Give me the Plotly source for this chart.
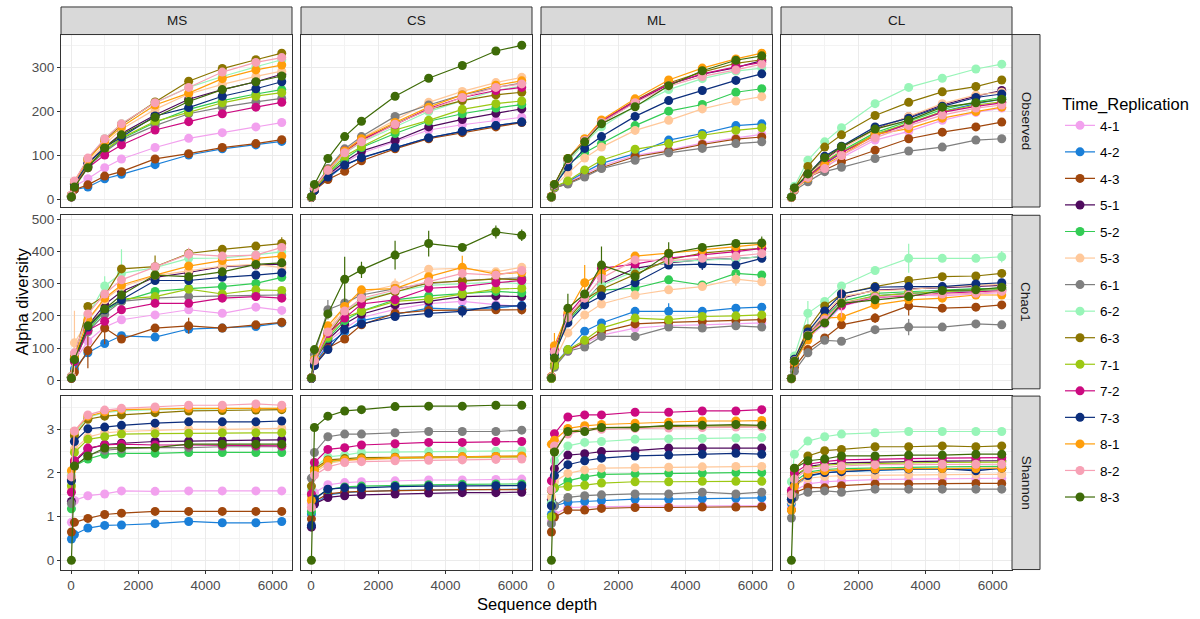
import plotly.graph_objects as go

# rarefaction depths and facet labels
depths = [10, 100, 500, 1000, 1500, 2500, 3500, 4500, 5500, 6270]
sites = ["MS", "CS", "ML", "CL"]
measures = ["Observed", "Chao1", "Shannon"]
groups = ["4-1", "4-2", "4-3", "5-1", "5-2", "5-3", "6-1", "6-2",
          "6-3", "7-1", "7-2", "7-3", "8-1", "8-2", "8-3"]
colors = ["#F2A1EE", "#1A7FD8", "#A0470D", "#4F0A5E", "#33CC55", "#FFC89A",
          "#7F7F7F", "#98F5B8", "#8B7500", "#9CC813", "#CC0A80", "#0C2E7C",
          "#FF9E0B", "#F7A1B5", "#3E6B08"]

# ---- Observed (rows follow the order of groups) ----
obs_MS = [
    [6, 30, 47, 72, 92, 118, 139, 152, 165, 175],
    [5, 22, 28, 47, 57, 79, 101, 115, 124, 132],
    [5, 22, 33, 53, 63, 92, 104, 118, 127, 136],
    [8, 35, 82, 118, 150, 192, 228, 250, 268, 285],
    [7, 33, 75, 110, 138, 175, 205, 225, 240, 250],
    [8, 38, 85, 125, 160, 205, 240, 262, 280, 292],
    [7, 33, 75, 108, 135, 168, 195, 210, 222, 230],
    [9, 40, 92, 138, 172, 220, 255, 280, 302, 318],
    [9, 40, 92, 135, 170, 222, 269, 298, 318, 333],
    [7, 34, 78, 112, 140, 178, 198, 220, 235, 243],
    [7, 33, 72, 101, 124, 158, 177, 195, 210, 221],
    [8, 36, 82, 118, 142, 190, 209, 235, 252, 268],
    [9, 40, 90, 132, 165, 215, 242, 275, 295, 306],
    [10, 42, 94, 138, 172, 220, 255, 290, 312, 323],
    [6, 28, 72, 117, 147, 187, 223, 250, 268, 281],
]
obs_CS = [
    [4, 22, 52, 82, 105, 132, 158, 170, 180, 187],
    [4, 20, 48, 78, 94, 118, 140, 155, 168, 176],
    [4, 20, 45, 64, 88, 115, 138, 152, 165, 175],
    [4, 22, 55, 86, 110, 134, 165, 182, 196, 206],
    [4, 23, 58, 92, 118, 150, 178, 195, 208, 216],
    [5, 26, 68, 112, 140, 180, 221, 246, 266, 278],
    [5, 27, 70, 115, 143, 189, 215, 238, 255, 265],
    [5, 25, 64, 105, 130, 165, 200, 225, 248, 258],
    [5, 25, 65, 108, 135, 172, 205, 225, 238, 244],
    [4, 24, 60, 98, 120, 158, 180, 205, 218, 224],
    [5, 25, 66, 110, 136, 170, 207, 232, 248, 255],
    [4, 20, 51, 78, 95, 118, 140, 155, 168, 176],
    [5, 26, 67, 110, 138, 175, 210, 238, 260, 270],
    [5, 26, 66, 106, 131, 171, 204, 232, 255, 263],
    [6, 34, 93, 143, 178, 235, 276, 305, 338, 351],
]
obs_ML = [
    [5, 28, 38, 58, 76, 100, 112, 128, 140, 148],
    [5, 28, 40, 62, 82, 104, 135, 150, 168, 172],
    [5, 26, 36, 54, 72, 97, 110, 125, 137, 142],
    [6, 33, 90, 134, 175, 222, 262, 285, 300, 316],
    [6, 30, 80, 106, 127, 168, 201, 216, 244, 252],
    [5, 30, 59, 94, 119, 157, 180, 206, 224, 234],
    [5, 26, 35, 51, 70, 89, 106, 116, 127, 131],
    [6, 32, 85, 128, 165, 212, 250, 275, 292, 299],
    [6, 33, 91, 136, 178, 225, 265, 290, 310, 318],
    [5, 28, 42, 67, 89, 114, 127, 146, 157, 163],
    [6, 33, 92, 136, 178, 224, 262, 286, 302, 312],
    [6, 31, 74, 116, 143, 189, 225, 248, 271, 286],
    [7, 34, 93, 138, 181, 229, 272, 299, 320, 333],
    [6, 32, 90, 134, 175, 220, 258, 280, 295, 308],
    [6, 34, 93, 131, 172, 211, 259, 293, 317, 327],
]
obs_CL = [
    [4, 24, 46, 74, 95, 135, 155, 180, 198, 208],
    [4, 24, 50, 80, 106, 148, 172, 200, 218, 228],
    [4, 22, 51, 67, 85, 112, 138, 153, 165, 176],
    [5, 25, 56, 90, 118, 160, 188, 215, 235, 248],
    [5, 24, 53, 85, 110, 152, 178, 205, 222, 232],
    [5, 25, 55, 88, 115, 158, 189, 218, 238, 244],
    [4, 20, 40, 63, 73, 93, 110, 119, 135, 138],
    [6, 30, 89, 131, 163, 218, 255, 276, 297, 308],
    [5, 25, 75, 119, 147, 191, 221, 245, 257, 272],
    [4, 23, 52, 84, 108, 148, 174, 200, 215, 222],
    [4, 23, 52, 82, 106, 145, 172, 198, 212, 220],
    [5, 25, 57, 98, 121, 165, 185, 212, 232, 240],
    [4, 22, 48, 78, 100, 148, 161, 185, 200, 210],
    [4, 23, 50, 70, 100, 140, 168, 192, 208, 215],
    [5, 26, 58, 95, 120, 160, 180, 210, 220, 228],
]

# ---- Chao1 ----
chao_MS = [
    [8, 60, 121, 165, 188, 203, 219, 208, 227, 217],
    [5, 35, 85, 114, 138, 134, 159, 162, 167, 178],
    [5, 25, 92, 162, 128, 162, 169, 162, 172, 180],
    [10, 68, 170, 235, 276, 320, 335, 353, 358, 361],
    [9, 62, 155, 215, 245, 276, 285, 291, 301, 320],
    [12, 116, 185, 250, 290, 325, 340, 355, 360, 350],
    [8, 60, 150, 205, 245, 255, 260, 262, 264, 265],
    [12, 82, 200, 293, 332, 350, 379, 380, 390, 399],
    [10, 72, 229, 262, 346, 353, 394, 407, 417, 425],
    [9, 65, 160, 220, 252, 260, 283, 268, 281, 279],
    [9, 58, 155, 183, 219, 239, 239, 255, 260, 255],
    [9, 65, 165, 219, 250, 310, 310, 320, 327, 334],
    [10, 70, 188, 255, 296, 327, 355, 372, 379, 386],
    [11, 85, 206, 268, 312, 353, 392, 386, 389, 413],
    [7, 64, 169, 221, 265, 327, 322, 337, 360, 365],
]
chao_CS = [
    [6, 55, 120, 160, 195, 220, 238, 245, 235, 229],
    [5, 50, 110, 150, 185, 205, 224, 220, 225, 232],
    [5, 48, 100, 128, 172, 208, 217, 217, 219, 219],
    [6, 58, 125, 175, 205, 234, 245, 260, 262, 260],
    [7, 60, 130, 185, 215, 250, 262, 270, 276, 272],
    [8, 70, 155, 230, 272, 296, 345, 348, 337, 351],
    [8, 80, 219, 240, 265, 285, 300, 310, 315, 318],
    [7, 65, 150, 215, 250, 275, 295, 300, 305, 300],
    [7, 62, 140, 210, 245, 275, 303, 308, 315, 312],
    [6, 60, 135, 195, 214, 245, 252, 268, 283, 286],
    [7, 62, 145, 193, 237, 250, 286, 291, 303, 310],
    [5, 45, 95, 157, 175, 198, 208, 214, 231, 231],
    [7, 64, 169, 229, 281, 285, 322, 351, 330, 335],
    [7, 60, 150, 215, 255, 280, 306, 332, 327, 341],
    [7, 95, 206, 314, 343, 389, 425, 413, 461, 451],
]
chao_ML = [
    [6, 45, 90, 115, 140, 162, 170, 172, 175, 178],
    [6, 50, 95, 152, 178, 214, 214, 214, 224, 227],
    [5, 48, 92, 118, 150, 175, 180, 183, 185, 188],
    [10, 90, 200, 245, 300, 348, 365, 375, 378, 384],
    [9, 80, 185, 240, 280, 286, 312, 296, 332, 327],
    [8, 60, 147, 203, 237, 265, 281, 291, 314, 306],
    [5, 40, 90, 103, 136, 136, 165, 162, 169, 165],
    [10, 85, 195, 250, 295, 340, 368, 372, 378, 384],
    [9, 85, 190, 250, 283, 330, 375, 395, 405, 410],
    [6, 45, 95, 124, 162, 193, 188, 198, 200, 203],
    [10, 95, 203, 265, 348, 361, 380, 389, 400, 410],
    [9, 82, 178, 234, 262, 303, 358, 361, 358, 379],
    [11, 107, 210, 303, 332, 386, 395, 405, 415, 423],
    [10, 88, 195, 255, 317, 374, 372, 379, 386, 394],
    [7, 69, 224, 268, 358, 322, 394, 413, 425, 427],
]
chao_CL = [
    [5, 55, 130, 175, 230, 255, 265, 262, 268, 272],
    [5, 55, 135, 180, 235, 262, 270, 275, 280, 282],
    [4, 40, 95, 131, 172, 193, 231, 224, 227, 234],
    [6, 60, 145, 200, 255, 280, 285, 288, 292, 295],
    [6, 58, 140, 195, 245, 270, 275, 280, 285, 285],
    [6, 60, 145, 205, 260, 278, 282, 290, 295, 298],
    [4, 28, 85, 124, 121, 157, 165, 165, 175, 172],
    [7, 75, 208, 245, 293, 341, 379, 379, 379, 384],
    [6, 65, 160, 231, 268, 291, 310, 322, 324, 332],
    [5, 58, 140, 190, 240, 262, 270, 275, 280, 282],
    [5, 55, 140, 192, 232, 258, 262, 270, 275, 278],
    [6, 65, 150, 215, 268, 289, 291, 291, 299, 303],
    [5, 55, 125, 193, 196, 234, 250, 255, 265, 265],
    [6, 60, 140, 188, 240, 258, 265, 268, 270, 276],
    [5, 59, 138, 178, 239, 250, 260, 279, 281, 289],
]

# visible Chao1 error bars: (group, depth index, half-width)
chao_err_MS = [("5-3", 1, 100), ("6-2", 4, 75), ("4-3", 2, 55), ("4-3", 3, 50),
               ("4-1", 1, 30), ("6-3", 5, 35), ("6-3", 9, 20), ("4-3", 6, 25),
               ("8-2", 6, 20), ("6-2", 3, 30)]
chao_err_CS = [("8-3", 3, 70), ("8-3", 5, 45), ("8-3", 6, 40), ("8-3", 4, 25),
               ("8-3", 8, 20), ("8-3", 9, 18), ("8-1", 7, 36), ("6-1", 2, 30),
               ("5-3", 5, 20), ("7-3", 7, 18), ("4-3", 9, 15)]
chao_err_ML = [("8-3", 4, 58), ("8-1", 3, 55), ("8-3", 2, 45), ("8-3", 6, 35),
               ("8-1", 1, 40), ("4-2", 6, 25), ("8-3", 9, 20), ("5-3", 8, 20),
               ("7-3", 7, 18)]
chao_err_CL = [("6-2", 6, 45), ("8-2", 4, 45), ("6-2", 2, 38), ("4-3", 6, 30),
               ("6-1", 6, 25), ("6-1", 1, 25), ("6-2", 9, 18), ("4-3", 5, 15)]

# ---- Shannon ----
shan_MS = [
    [0.87, 1.37, 1.48, 1.52, 1.59, 1.58, 1.59, 1.59, 1.59, 1.59],
    [0.49, 0.59, 0.74, 0.80, 0.81, 0.84, 0.89, 0.86, 0.86, 0.89],
    [0.65, 0.87, 0.96, 1.05, 1.08, 1.12, 1.12, 1.12, 1.12, 1.12],
    [1.35, 2.25, 2.55, 2.65, 2.68, 2.72, 2.73, 2.74, 2.75, 2.76],
    [1.18, 2.16, 2.32, 2.43, 2.45, 2.45, 2.47, 2.47, 2.47, 2.47],
    [1.65, 2.55, 2.82, 2.92, 2.95, 2.98, 3.00, 3.00, 3.01, 3.02],
    [1.30, 2.15, 2.40, 2.52, 2.55, 2.58, 2.58, 2.60, 2.60, 2.60],
    [1.95, 2.90, 3.28, 3.38, 3.42, 3.45, 3.46, 3.47, 3.47, 3.48],
    [1.85, 2.85, 3.23, 3.30, 3.33, 3.38, 3.42, 3.43, 3.44, 3.45],
    [1.71, 2.47, 2.77, 2.83, 2.89, 2.90, 2.91, 2.92, 2.92, 2.92],
    [1.56, 2.28, 2.57, 2.64, 2.66, 2.64, 2.64, 2.63, 2.63, 2.62],
    [1.82, 2.72, 3.01, 3.05, 3.09, 3.14, 3.17, 3.17, 3.17, 3.19],
    [2.05, 2.95, 3.30, 3.40, 3.45, 3.47, 3.48, 3.48, 3.48, 3.48],
    [1.91, 2.96, 3.33, 3.44, 3.48, 3.51, 3.55, 3.55, 3.58, 3.55],
    [0.00, 2.16, 2.39, 2.57, 2.58, 2.58, 2.66, 2.66, 2.66, 2.66],
]
shan_CS = [
    [1.30, 1.55, 1.73, 1.78, 1.80, 1.82, 1.84, 1.84, 1.85, 1.86],
    [1.06, 1.29, 1.50, 1.55, 1.57, 1.60, 1.61, 1.62, 1.62, 1.63],
    [0.95, 1.35, 1.52, 1.56, 1.58, 1.60, 1.61, 1.62, 1.62, 1.62],
    [0.76, 1.29, 1.44, 1.48, 1.50, 1.52, 1.54, 1.55, 1.55, 1.56],
    [1.12, 1.42, 1.62, 1.68, 1.70, 1.72, 1.73, 1.74, 1.75, 1.75],
    [1.45, 2.00, 2.22, 2.28, 2.30, 2.33, 2.34, 2.35, 2.35, 2.36],
    [1.88, 2.47, 2.83, 2.89, 2.89, 2.92, 2.95, 2.95, 2.95, 2.98],
    [1.60, 2.13, 2.37, 2.41, 2.47, 2.48, 2.49, 2.50, 2.50, 2.51],
    [1.70, 2.10, 2.30, 2.33, 2.35, 2.36, 2.37, 2.37, 2.38, 2.38],
    [1.50, 2.05, 2.26, 2.30, 2.32, 2.34, 2.35, 2.36, 2.36, 2.37],
    [1.52, 2.24, 2.54, 2.58, 2.64, 2.67, 2.70, 2.70, 2.72, 2.72],
    [0.80, 1.40, 1.63, 1.66, 1.66, 1.69, 1.70, 1.70, 1.71, 1.71],
    [1.37, 2.05, 2.28, 2.30, 2.32, 2.35, 2.36, 2.37, 2.38, 2.39],
    [1.21, 1.95, 2.14, 2.24, 2.26, 2.28, 2.29, 2.30, 2.31, 2.32],
    [0.00, 3.04, 3.30, 3.42, 3.45, 3.52, 3.53, 3.53, 3.55, 3.55],
]
shan_ML = [
    [0.90, 1.05, 1.21, 1.22, 1.23, 1.24, 1.24, 1.25, 1.25, 1.25],
    [1.05, 1.25, 1.33, 1.35, 1.37, 1.40, 1.40, 1.41, 1.42, 1.43],
    [0.65, 0.99, 1.15, 1.15, 1.19, 1.21, 1.21, 1.22, 1.22, 1.23],
    [1.40, 2.10, 2.41, 2.44, 2.49, 2.51, 2.57, 2.57, 2.57, 2.57],
    [1.30, 1.65, 1.82, 1.91, 1.97, 1.98, 2.00, 2.00, 2.01, 2.01],
    [1.45, 1.80, 1.99, 2.07, 2.11, 2.12, 2.13, 2.14, 2.15, 2.15],
    [0.84, 1.25, 1.44, 1.48, 1.50, 1.52, 1.52, 1.56, 1.52, 1.56],
    [1.30, 2.28, 2.62, 2.70, 2.72, 2.77, 2.78, 2.79, 2.80, 2.81],
    [1.60, 2.50, 2.95, 3.00, 3.04, 3.05, 3.07, 3.08, 3.08, 3.08],
    [1.00, 1.67, 1.69, 1.72, 1.77, 1.80, 1.80, 1.81, 1.81, 1.81],
    [1.82, 2.90, 3.28, 3.33, 3.33, 3.39, 3.39, 3.42, 3.42, 3.45],
    [1.25, 1.94, 2.19, 2.28, 2.34, 2.39, 2.41, 2.43, 2.45, 2.43],
    [2.66, 2.75, 3.02, 3.08, 3.11, 3.14, 3.16, 3.19, 3.19, 3.20],
    [1.61, 2.62, 2.89, 2.98, 3.00, 3.02, 3.03, 3.04, 3.05, 3.05],
    [0.00, 2.48, 2.95, 2.95, 3.04, 3.04, 3.09, 3.09, 3.11, 3.09],
]
shan_CL = [
    [1.20, 1.60, 1.75, 1.80, 1.82, 1.85, 1.86, 1.87, 1.87, 1.88],
    [1.30, 1.70, 1.92, 2.00, 2.03, 2.06, 2.08, 2.09, 2.08, 2.10],
    [1.15, 1.55, 1.67, 1.66, 1.71, 1.75, 1.75, 1.76, 1.76, 1.76],
    [1.55, 1.90, 2.15, 2.20, 2.23, 2.25, 2.26, 2.27, 2.27, 2.28],
    [1.40, 1.80, 2.02, 2.08, 2.10, 2.12, 2.13, 2.14, 2.14, 2.15],
    [1.35, 1.70, 1.88, 1.92, 1.94, 1.95, 1.96, 1.96, 1.97, 1.97],
    [0.97, 1.45, 1.56, 1.59, 1.56, 1.63, 1.63, 1.63, 1.63, 1.63],
    [1.80, 2.43, 2.73, 2.83, 2.89, 2.92, 2.95, 2.95, 2.95, 2.95],
    [1.52, 2.10, 2.39, 2.51, 2.54, 2.60, 2.60, 2.62, 2.60, 2.62],
    [1.50, 1.95, 2.12, 2.18, 2.20, 2.22, 2.23, 2.24, 2.24, 2.25],
    [1.60, 2.00, 2.20, 2.26, 2.30, 2.32, 2.33, 2.34, 2.34, 2.35],
    [1.40, 1.75, 1.94, 2.01, 2.03, 2.07, 2.09, 2.10, 2.05, 2.11],
    [1.15, 1.70, 1.98, 2.05, 2.07, 2.09, 2.10, 2.10, 2.10, 2.11],
    [1.50, 1.86, 2.09, 2.13, 2.16, 2.19, 2.19, 2.20, 2.20, 2.20],
    [0.00, 2.11, 2.28, 2.32, 2.39, 2.39, 2.41, 2.41, 2.43, 2.43],
]

panel_data = {
    "Observed": [obs_MS, obs_CS, obs_ML, obs_CL],
    "Chao1": [chao_MS, chao_CS, chao_ML, chao_CL],
    "Shannon": [shan_MS, shan_CS, shan_ML, shan_CL],
}
panel_err = {"Chao1": [chao_err_MS, chao_err_CS, chao_err_ML, chao_err_CL]}

W, H = 1200, 619
FONT = "Liberation Sans, Arial, sans-serif"
SMALL = 13.5
TITLE = 16.5
col_px = [(61, 292), (301, 532), (541, 772), (781, 1012)]
row_px = [(31.7, 205), (213.3, 387.7), (395, 569.3)]
y_ranges = [[-17.5, 375.5], [-27, 513], [-0.21, 3.76]]
y_dtick = [100, 100, 1]

fig = go.Figure()
layout = {}
shapes = []
annotations = []

for r, m in enumerate(measures):
    y0, y1 = row_px[r]
    for c, s in enumerate(sites):
        x0, x1 = col_px[c]
        k = r * 4 + c + 1
        sfx = "" if k == 1 else str(k)
        vals = panel_data[m][c]
        errs = panel_err.get(m, [None] * 4)[c]
        for g, name in enumerate(groups):
            err_y = None
            if errs:
                arr = [0] * len(depths)
                hit = False
                for gname, idx, e in errs:
                    if gname == name:
                        arr[idx] = e
                        hit = True
                if hit:
                    err_y = dict(type="data", array=arr, visible=True,
                                 color=colors[g], thickness=1.2, width=0)
            fig.add_trace(go.Scatter(
                x=depths, y=vals[g], xaxis="x" + sfx, yaxis="y" + sfx,
                mode="lines+markers", name=name, legendgroup=name,
                showlegend=(k == 1),
                line=dict(color=colors[g], width=1.2),
                marker=dict(color=colors[g], size=9),
                error_y=err_y,
            ))
        bottom = r == len(measures) - 1
        left = c == 0
        layout["xaxis" + sfx] = dict(
            domain=[x0 / W, x1 / W], anchor="y" + sfx, range=[-300, 6575],
            tick0=0, dtick=2000, showgrid=True, gridcolor="#EBEBEB", gridwidth=1,
            minor=dict(dtick=1000, showgrid=True, gridcolor="#F3F3F3", gridwidth=1),
            showline=True, mirror=True, linecolor="#333333", linewidth=1,
            zeroline=False, ticks="outside" if bottom else "", ticklen=3,
            tickcolor="#333333", showticklabels=bottom,
            tickfont=dict(size=SMALL, color="#4D4D4D", family=FONT),
        )
        layout["yaxis" + sfx] = dict(
            domain=[1 - y1 / H, 1 - y0 / H], anchor="x" + sfx, range=y_ranges[r],
            tick0=0, dtick=y_dtick[r], showgrid=True, gridcolor="#EBEBEB", gridwidth=1,
            minor=dict(dtick=y_dtick[r] / 2, showgrid=True, gridcolor="#F3F3F3",
                       gridwidth=1),
            showline=True, mirror=True, linecolor="#333333", linewidth=1,
            zeroline=False, ticks="outside" if left else "", ticklen=3,
            tickcolor="#333333", showticklabels=left,
            tickfont=dict(size=SMALL, color="#4D4D4D", family=FONT),
        )

# facet strips
for c, s in enumerate(sites):
    x0, x1 = col_px[c]
    shapes.append(dict(type="rect", xref="paper", yref="paper",
                       x0=x0 / W, x1=x1 / W, y0=1 - 31.7 / H, y1=1 - 4 / H,
                       fillcolor="#D9D9D9", line=dict(color="#333333", width=1)))
    annotations.append(dict(text=s, xref="paper", yref="paper",
                            x=(x0 + x1) / 2 / W, y=1 - 17.8 / H, showarrow=False,
                            xanchor="center", yanchor="middle",
                            font=dict(size=SMALL, color="#1A1A1A", family=FONT)))
for r, m in enumerate(measures):
    y0, y1 = row_px[r]
    shapes.append(dict(type="rect", xref="paper", yref="paper",
                       x0=1012 / W, x1=1040 / W, y0=1 - y1 / H, y1=1 - y0 / H,
                       fillcolor="#D9D9D9", line=dict(color="#333333", width=1)))
    annotations.append(dict(text=m, xref="paper", yref="paper",
                            x=1026 / W, y=1 - (y0 + y1) / 2 / H, showarrow=False,
                            xanchor="center", yanchor="middle", textangle=90,
                            font=dict(size=SMALL, color="#1A1A1A", family=FONT)))

# axis titles
annotations.append(dict(text="Alpha diversity", xref="paper", yref="paper",
                        x=22 / W, y=1 - 300 / H, showarrow=False, textangle=-90,
                        xanchor="center", yanchor="middle",
                        font=dict(size=TITLE, color="black", family=FONT)))
annotations.append(dict(text="Sequence depth", xref="paper", yref="paper",
                        x=537 / W, y=1 - 604 / H, showarrow=False,
                        xanchor="center", yanchor="middle",
                        font=dict(size=TITLE, color="black", family=FONT)))

fig.update_layout(
    **layout,
    width=W, height=H,
    margin=dict(l=0, r=0, t=0, b=0),
    plot_bgcolor="white", paper_bgcolor="white",
    font=dict(family=FONT),
    shapes=shapes, annotations=annotations,
    showlegend=True,
    legend=dict(x=1060 / W, y=1 - 86 / H, xanchor="left", yanchor="top",
                title=dict(text="Time_Replication",
                           font=dict(size=TITLE, color="black", family=FONT)),
                font=dict(size=SMALL, color="black", family=FONT),
                tracegroupgap=6, bgcolor="rgba(0,0,0,0)", itemwidth=30),
)

fig.write_html("out.html", config={"displayModeBar": False},
               post_script="document.body.style.margin='0';")
